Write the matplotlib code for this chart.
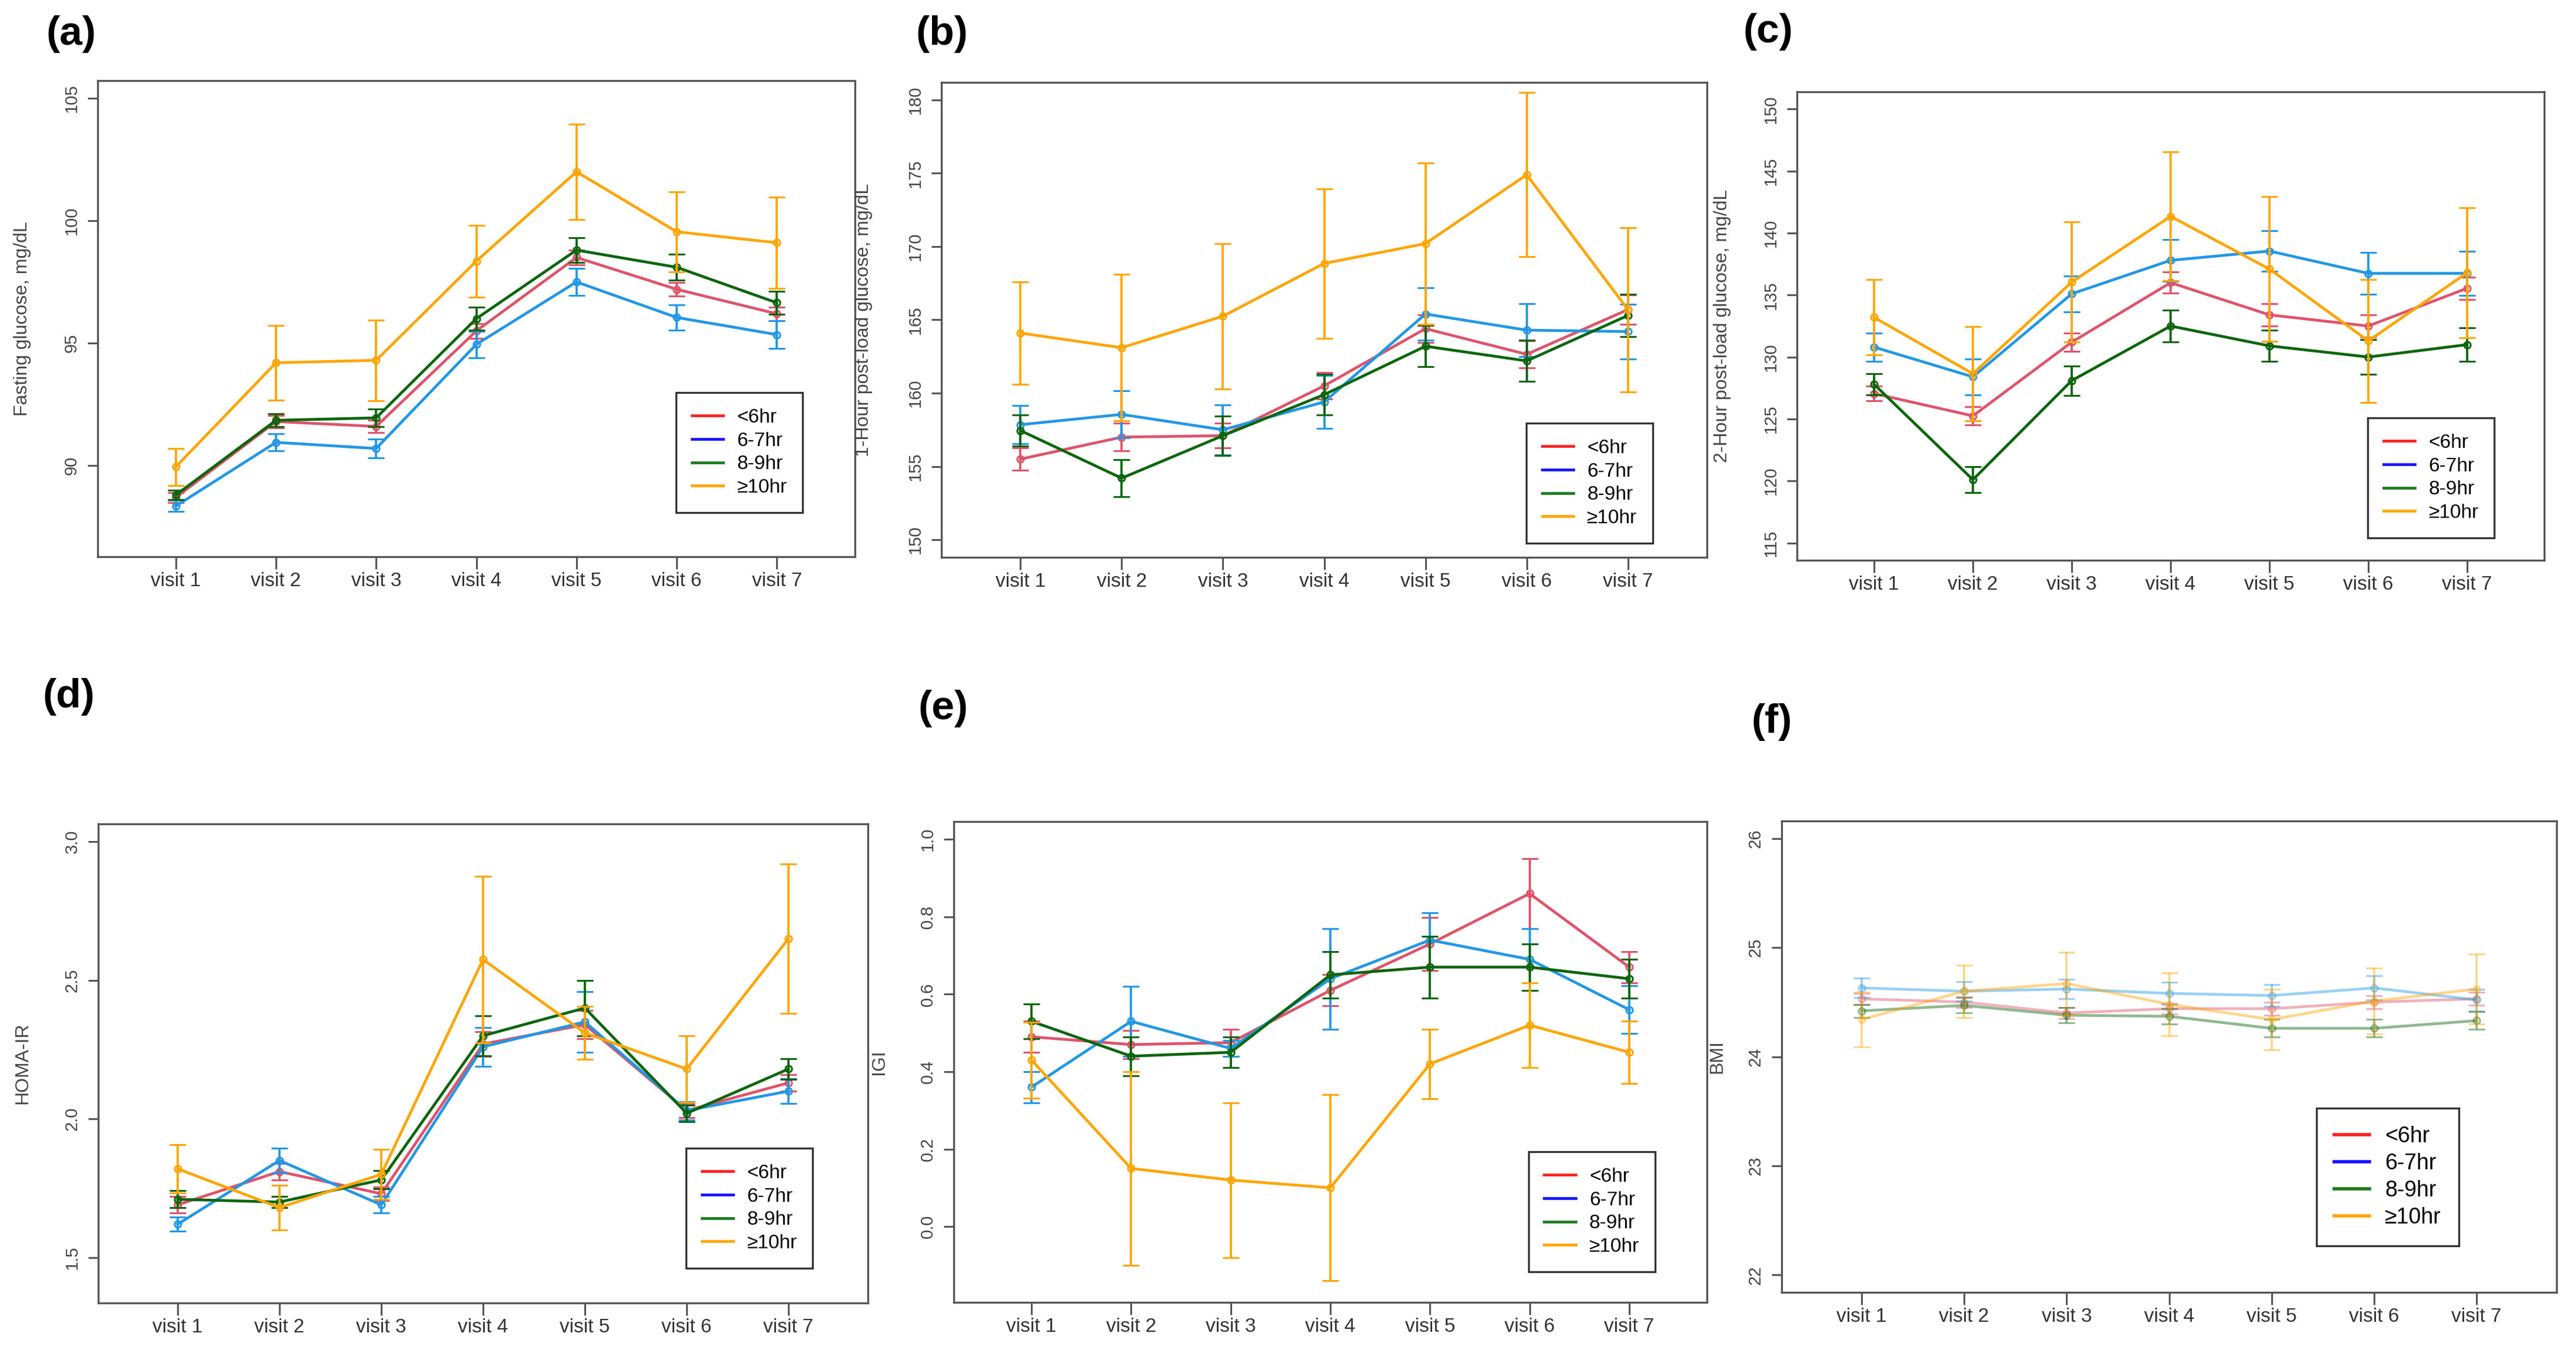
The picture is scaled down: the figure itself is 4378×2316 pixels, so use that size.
import matplotlib
matplotlib.use('Agg')
import matplotlib.pyplot as plt
from matplotlib.lines import Line2D
import numpy as np

# groups of sleep duration
groups = ['<6hr', '6-7hr', '8-9hr', '\u226510hr']
visits = ['visit 1', 'visit 2', 'visit 3', 'visit 4', 'visit 5', 'visit 6', 'visit 7']

# (a) fasting glucose, mean and error per group (rows: <6, 6-7, 8-9, >=10)
fpg_mean = [[88.7, 91.8, 91.6, 95.5, 98.5, 97.2, 96.2],
            [88.35, 90.95, 90.7, 94.95, 97.5, 96.05, 95.35],
            [88.8, 91.85, 91.95, 96.0, 98.8, 98.1, 96.65],
            [89.95, 94.2, 94.3, 98.35, 102.0, 99.55, 99.1]]
fpg_err = [[0.2, 0.25, 0.25, 0.3, 0.3, 0.28, 0.28],
           [0.23, 0.35, 0.38, 0.54, 0.56, 0.52, 0.56],
           [0.2, 0.27, 0.35, 0.47, 0.5, 0.53, 0.47],
           [0.76, 1.52, 1.65, 1.47, 1.94, 1.64, 1.87]]

# (b) 1-hour post-load glucose
g1h_mean = [[155.5, 157.0, 157.1, 160.5, 164.4, 162.65, 165.7],
            [157.85, 158.55, 157.5, 159.4, 165.4, 164.3, 164.2],
            [157.45, 154.2, 157.1, 159.9, 163.2, 162.2, 165.3],
            [164.1, 163.1, 165.25, 168.85, 170.2, 174.9, 165.7]]
g1h_err = [[0.75, 0.95, 0.85, 0.9, 0.95, 0.93, 1.0],
           [1.3, 1.6, 1.7, 1.8, 1.8, 1.8, 1.85],
           [1.05, 1.25, 1.35, 1.4, 1.4, 1.4, 1.45],
           [3.5, 5.0, 4.95, 5.1, 5.5, 5.6, 5.6]]

# (c) 2-hour post-load glucose
g2h_mean = [[127.05, 125.25, 131.2, 136.0, 133.4, 132.5, 135.55],
            [130.8, 128.4, 135.1, 137.8, 138.55, 136.75, 136.75],
            [127.8, 120.1, 128.1, 132.5, 130.9, 130.0, 131.0],
            [133.2, 128.65, 136.05, 141.35, 137.1, 131.3, 136.8]]
g2h_err = [[0.6, 0.75, 0.75, 0.85, 0.9, 0.9, 0.9],
           [1.13, 1.45, 1.46, 1.7, 1.62, 1.7, 1.8],
           [0.86, 1.05, 1.18, 1.27, 1.27, 1.4, 1.37],
           [3.05, 3.8, 4.85, 5.2, 5.85, 4.95, 5.25]]

# (d) HOMA-IR
homa_mean = [[1.69, 1.81, 1.73, 2.27, 2.34, 2.03, 2.13],
             [1.62, 1.85, 1.69, 2.26, 2.35, 2.03, 2.10],
             [1.71, 1.70, 1.78, 2.30, 2.40, 2.02, 2.18],
             [1.82, 1.68, 1.80, 2.575, 2.31, 2.18, 2.65]]
homa_err = [[0.03, 0.03, 0.025, 0.045, 0.05, 0.025, 0.03],
            [0.025, 0.045, 0.03, 0.07, 0.11, 0.033, 0.045],
            [0.031, 0.02, 0.033, 0.072, 0.1, 0.03, 0.038],
            [0.088, 0.08, 0.09, 0.3, 0.096, 0.12, 0.27]]

# (e) IGI
igi_mean = [[0.49, 0.47, 0.475, 0.61, 0.73, 0.86, 0.67],
            [0.36, 0.53, 0.46, 0.64, 0.74, 0.69, 0.56],
            [0.53, 0.44, 0.45, 0.65, 0.67, 0.67, 0.64],
            [0.43, 0.15, 0.12, 0.10, 0.42, 0.52, 0.45]]
igi_err = [[0.04, 0.037, 0.035, 0.04, 0.068, 0.09, 0.04],
           [0.04, 0.09, 0.02, 0.13, 0.07, 0.08, 0.062],
           [0.045, 0.05, 0.04, 0.06, 0.08, 0.06, 0.05],
           [0.098, 0.25, 0.2, 0.24, 0.09, 0.11, 0.08]]

# (f) BMI
bmi_mean = [[24.53, 24.50, 24.40, 24.44, 24.44, 24.50, 24.53],
            [24.63, 24.60, 24.62, 24.58, 24.56, 24.63, 24.52],
            [24.42, 24.47, 24.38, 24.37, 24.26, 24.26, 24.33],
            [24.34, 24.60, 24.67, 24.48, 24.34, 24.51, 24.62]]
bmi_err = [[0.05, 0.05, 0.05, 0.05, 0.06, 0.06, 0.06],
           [0.09, 0.09, 0.09, 0.1, 0.1, 0.11, 0.1],
           [0.06, 0.07, 0.07, 0.07, 0.08, 0.08, 0.08],
           [0.25, 0.24, 0.29, 0.29, 0.28, 0.3, 0.32]]

line_cols = ['#DF536B', '#2297E6', '#0B650B', '#FFA500']
leg_cols = ['#FF2020', '#1515FF', '#1E7B1E', '#FFA500']

narrow = ['Liberation Sans Narrow', 'Liberation Sans', 'DejaVu Sans']
plain = ['Liberation Sans', 'DejaVu Sans']

W, H = 4378, 2316
fig = plt.figure(figsize=(W / 100, H / 100), dpi=100)


def panel(box, tag, tagpos, means, errs, ylab, ylim, yticks, yfmt, legpos,
          ylab_x, faded=False, legsize=24):
    l, t, r, b = box
    ax = fig.add_axes([l / W, 1 - b / H, (r - l) / W, (b - t) / H])
    x = np.arange(1, 8)
    a = 0.45 if faded else 1.0
    for i in range(4):
        ax.errorbar(x, means[i], yerr=errs[i], color=line_cols[i], lw=3.4,
                    elinewidth=2.7, capsize=10, capthick=3.6, marker='o',
                    ms=8, mfc='none', mew=2.2, alpha=a, zorder=3 + i)
    ax.set_xlim(0.22, 7.78)
    lo, hi = ylim
    d = (hi - lo) * 0.04
    ax.set_ylim(lo - d, hi + d)
    ax.set_xticks(x)
    ax.set_xticklabels(visits, family=narrow, fontsize=24, color='#333333')
    ax.set_yticks(yticks)
    ax.set_yticklabels([yfmt % v for v in yticks], rotation=90, va='center',
                       family=plain, fontsize=21, color='#444444')
    ax.tick_params(axis='x', length=15, width=2.2, color='#555555', pad=4)
    ax.tick_params(axis='y', length=12, width=2.2, color='#555555', pad=10)
    for s in ax.spines.values():
        s.set_color('#555555')
        s.set_linewidth(2.4)
    ax.set_ylabel(ylab, family=plain, fontsize=23, color='#444444')
    ax.yaxis.set_label_coords((ylab_x - l) / (r - l), 0.5)

    handles = [Line2D([], [], color=c, lw=4 if faded else 3.4) for c in leg_cols]
    leg = ax.legend(handles, groups, loc='lower left', bbox_to_anchor=legpos,
                    prop={'family': narrow, 'size': legsize}, frameon=True,
                    fancybox=False, framealpha=1, edgecolor='#333333',
                    borderpad=0.8, labelspacing=0.26, handlelength=1.6,
                    handletextpad=0.7, borderaxespad=0)
    leg.get_frame().set_linewidth(2.4)
    leg.set_zorder(10)
    fig.text(tagpos[0] / W, 1 - tagpos[1] / H, tag,
             family=['Liberation Sans', 'DejaVu Sans'],
             fontsize=50, fontweight='bold', ha='left', va='top')
    return ax


panel((166, 137, 1453, 946), '(a)', (78, 26), fpg_mean, fpg_err,
      'Fasting glucose, mg/dL', (87, 105), [90, 95, 100, 105], '%d',
      (0.764, 0.093), 53)
panel((1600, 140, 2901, 947), '(b)', (1557, 26), g1h_mean, g1h_err,
      '1-Hour post-load glucose, mg/dL', (150, 180), list(range(150, 181, 5)), '%d',
      (0.764, 0.03), 1483)
panel((3054, 156, 4324, 952), '(c)', (2962, 22), g2h_mean, g2h_err,
      '2-Hour post-load glucose, mg/dL', (115, 150), list(range(115, 151, 5)), '%d',
      (0.764, 0.048), 2942)
panel((167, 1400, 1475, 2214), '(d)', (72, 1152), homa_mean, homa_err,
      'HOMA-IR', (1.4, 3.0), [1.5, 2.0, 2.5, 3.0], '%.1f',
      (0.764, 0.073), 53)
panel((1621, 1396, 2901, 2213), '(e)', (1560, 1172), igi_mean, igi_err,
      'IGI', (-0.15, 1.0), [0.0, 0.2, 0.4, 0.6, 0.8, 1.0], '%.1f',
      (0.763, 0.064), 1509)
panel((3028, 1395, 4345, 2196), '(f)', (2977, 1195), bmi_mean, bmi_err,
      'BMI', (22, 26), [22, 23, 24, 25, 26], '%d',
      (0.69, 0.099), 2933, faded=True, legsize=27)

fig.savefig('out.png', dpi=100)
